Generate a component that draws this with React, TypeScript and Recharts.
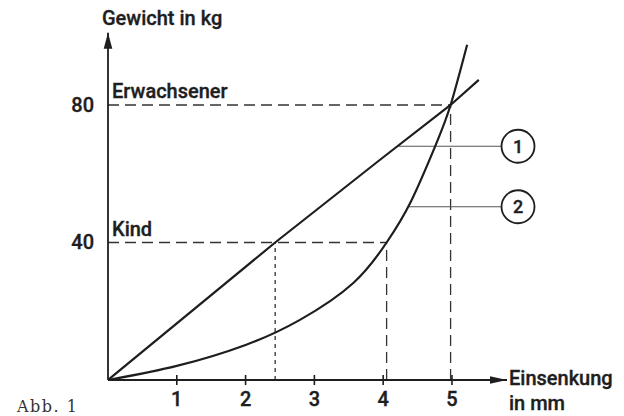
import React from 'react';
import { LineChart, Line, XAxis, YAxis, ReferenceLine, ReferenceDot } from 'recharts';

// Tick labels
const X_TICKS = [1, 2, 3, 4, 5];
const Y_TICKS = [40, 80];

// Curve 1: nearly linear (Einsenkung in mm, Gewicht in kg)
const curve1 = [
  { x: 0, y: 0 },
  { x: 2.43, y: 40 },
  { x: 3.95, y: 64 },
  { x: 4.98, y: 80 },
  { x: 5.39, y: 87.3 },
];

// Curve 2: progressive
const curve2 = [
  { x: 0, y: 0 },
  { x: 1, y: 4.1 },
  { x: 2, y: 10.2 },
  { x: 2.79, y: 17.5 },
  { x: 3.57, y: 28.3 },
  { x: 4.05, y: 40 },
  { x: 4.4, y: 51.8 },
  { x: 4.76, y: 68.2 },
  { x: 4.98, y: 80 },
  { x: 5.22, y: 97.5 },
];

// Reference levels
const ADULT = { label: 'Erwachsener', kg: 80, mm: 4.98 };
const CHILD = { label: 'Kind', kg: 40, mm1: 2.43, mm2: 4.05 };

// Callouts: number, level (kg), start x on curve
const callouts = [
  { n: '1', kg: 68, from: 4.22 },
  { n: '2', kg: 50.4, from: 4.37 },
];
const CALLOUT_X = 5.96;
const CALLOUT_LEADER_END = 5.72;

const X_DOMAIN: [number, number] = [0, 5.8];
const Y_DOMAIN: [number, number] = [0, 101];

const INK = '#1e1e1e';
const FONT = 'Roboto, "DejaVu Sans", sans-serif';
const THICK = { stroke: INK, strokeWidth: 0.35, paintOrder: 'stroke' as const };

const XTick = (props: any) => {
  const { x, y, payload } = props;
  return (
    <g>
      <line x1={x} x2={x} y1={y - 5} y2={y + 5} stroke={INK} strokeWidth={1.6} />
      <text x={x} y={y + 26} textAnchor="middle" fontSize={20} fontFamily={FONT} fontWeight={500} fill={INK} {...THICK}>
        {payload.value}
      </text>
    </g>
  );
};

const YTick = (props: any) => {
  const { x, y, payload } = props;
  return (
    <text x={x} y={y + 7} textAnchor="end" fontSize={20} fontFamily={FONT} fontWeight={500} fill={INK} {...THICK}>
      {payload.value}
    </text>
  );
};

const XTitle = (props: any) => {
  const vb = props.viewBox || { x: 0, y: 0, width: 0, height: 0 };
  const x = vb.x + vb.width + 2;
  return (
    <g>
      <text x={x} y={vb.y + 5} fontSize={20} fontFamily={FONT} fontWeight={500} fill={INK} {...THICK}>Einsenkung</text>
      <text x={x} y={vb.y + 30} fontSize={20} fontFamily={FONT} fontWeight={500} fill={INK} {...THICK}>in mm</text>
    </g>
  );
};

const YTitle = (props: any) => {
  const vb = props.viewBox || { x: 0, y: 0, width: 0, height: 0 };
  return (
    <g>
      <text x={vb.x + vb.width - 6} y={vb.y - 8} fontSize={20} fontFamily={FONT} fontWeight={500} fill={INK} {...THICK}>
        Gewicht in kg
      </text>
      <text x={vb.x + 17} y={vb.y + vb.height + 31.7} fontSize={16} fontFamily='"DejaVu Serif", serif' letterSpacing={1.5} fill="#333">
        Abb. 1
      </text>
    </g>
  );
};

const LevelCaption = (props: any) => {
  const vb = props.viewBox || { x: 0, y: 0 };
  return (
    <text x={vb.x + 4} y={vb.y - 6.5} fontSize={20} fontFamily={FONT} fontWeight={500} fill={INK} {...THICK}>
      {props.text}
    </text>
  );
};

const ArrowRight = (props: any) => {
  const { cx, cy } = props;
  return <path d={`M${cx},${cy} L${cx - 17},${cy - 3.8} L${cx - 17},${cy + 3.8} Z`} fill={INK} />;
};

const ArrowUp = (props: any) => {
  const { cx, cy } = props;
  return <path d={`M${cx},${cy} L${cx - 4.3},${cy + 16} L${cx + 4.3},${cy + 16} Z`} fill={INK} />;
};

const Bubble = (props: any) => {
  const { cx, cy, n } = props;
  return (
    <g>
      <circle cx={cx} cy={cy} r={16.5} fill="#fff" stroke={INK} strokeWidth={1.8} />
      <text x={cx} y={cy + 6.5} textAnchor="middle" fontSize={18} fontFamily={FONT} fontWeight={500} fill={INK} {...THICK}>
        {n}
      </text>
    </g>
  );
};

export default function App() {
  return (
    <div style={{ position: 'absolute', left: 0, top: 0, width: 624, height: 416, background: '#fff' }}>
      <LineChart width={624} height={416} margin={{ top: 32.8, right: 117, bottom: 0, left: 0 }}>
        <XAxis
          type="number"
          dataKey="x"
          domain={X_DOMAIN}
          allowDataOverflow
          ticks={X_TICKS}
          height={36}
          tickSize={0}
          tickMargin={0}
          tickLine={false}
          tick={<XTick />}
          axisLine={{ stroke: INK, strokeWidth: 1.8 }}
          label={<XTitle />}
        />
        <YAxis
          type="number"
          domain={Y_DOMAIN}
          allowDataOverflow
          ticks={Y_TICKS}
          width={108}
          tickLine={false}
          tickSize={6}
          tickMargin={8}
          tick={<YTick />}
          axisLine={{ stroke: INK, strokeWidth: 1.8 }}
          label={<YTitle />}
        />

        {/* level lines */}
        <ReferenceLine
          segment={[{ x: 0, y: ADULT.kg }, { x: ADULT.mm, y: ADULT.kg }]}
          stroke="#333"
          strokeWidth={1.3}
          strokeDasharray="11 6"
          label={<LevelCaption text={ADULT.label} />}
        />
        <ReferenceLine
          segment={[{ x: ADULT.mm, y: 0 }, { x: ADULT.mm, y: ADULT.kg }]}
          stroke="#333"
          strokeWidth={1.3}
          strokeDasharray="11 6"
        />
        <ReferenceLine
          segment={[{ x: 0, y: CHILD.kg }, { x: CHILD.mm2, y: CHILD.kg }]}
          stroke="#333"
          strokeWidth={1.3}
          strokeDasharray="11 6"
          label={<LevelCaption text={CHILD.label} />}
        />
        <ReferenceLine
          segment={[{ x: CHILD.mm2, y: 0 }, { x: CHILD.mm2, y: CHILD.kg }]}
          stroke="#333"
          strokeWidth={1.3}
          strokeDasharray="11 6"
        />
        <ReferenceLine
          segment={[{ x: CHILD.mm1, y: 0 }, { x: CHILD.mm1, y: CHILD.kg }]}
          stroke="#333"
          strokeWidth={1.3}
          strokeDasharray="4 4"
        />

        {/* callout leaders */}
        {callouts.map((c) => (
          <ReferenceLine
            key={'l' + c.n}
            segment={[{ x: c.from, y: c.kg }, { x: CALLOUT_LEADER_END, y: c.kg }]}
            stroke="#555"
            strokeWidth={1.2}
            ifOverflow="visible"
          />
        ))}

        <Line
          data={curve1}
          dataKey="y"
          type="linear"
          stroke={INK}
          strokeWidth={2.2}
          dot={false}
          activeDot={false}
          isAnimationActive={false}
        />
        <Line
          data={curve2}
          dataKey="y"
          type="natural"
          stroke={INK}
          strokeWidth={2.2}
          dot={false}
          activeDot={false}
          isAnimationActive={false}
        />

        {callouts.map((c) => (
          <ReferenceDot
            key={'b' + c.n}
            x={CALLOUT_X}
            y={c.kg}
            ifOverflow="visible"
            shape={(p: any) => <Bubble {...p} n={c.n} />}
          />
        ))}

        <ReferenceDot x={X_DOMAIN[1]} y={0} ifOverflow="visible" shape={(p: any) => <ArrowRight {...p} />} />
        <ReferenceDot x={0} y={Y_DOMAIN[1]} ifOverflow="visible" shape={(p: any) => <ArrowUp {...p} />} />
      </LineChart>
    </div>
  );
}
